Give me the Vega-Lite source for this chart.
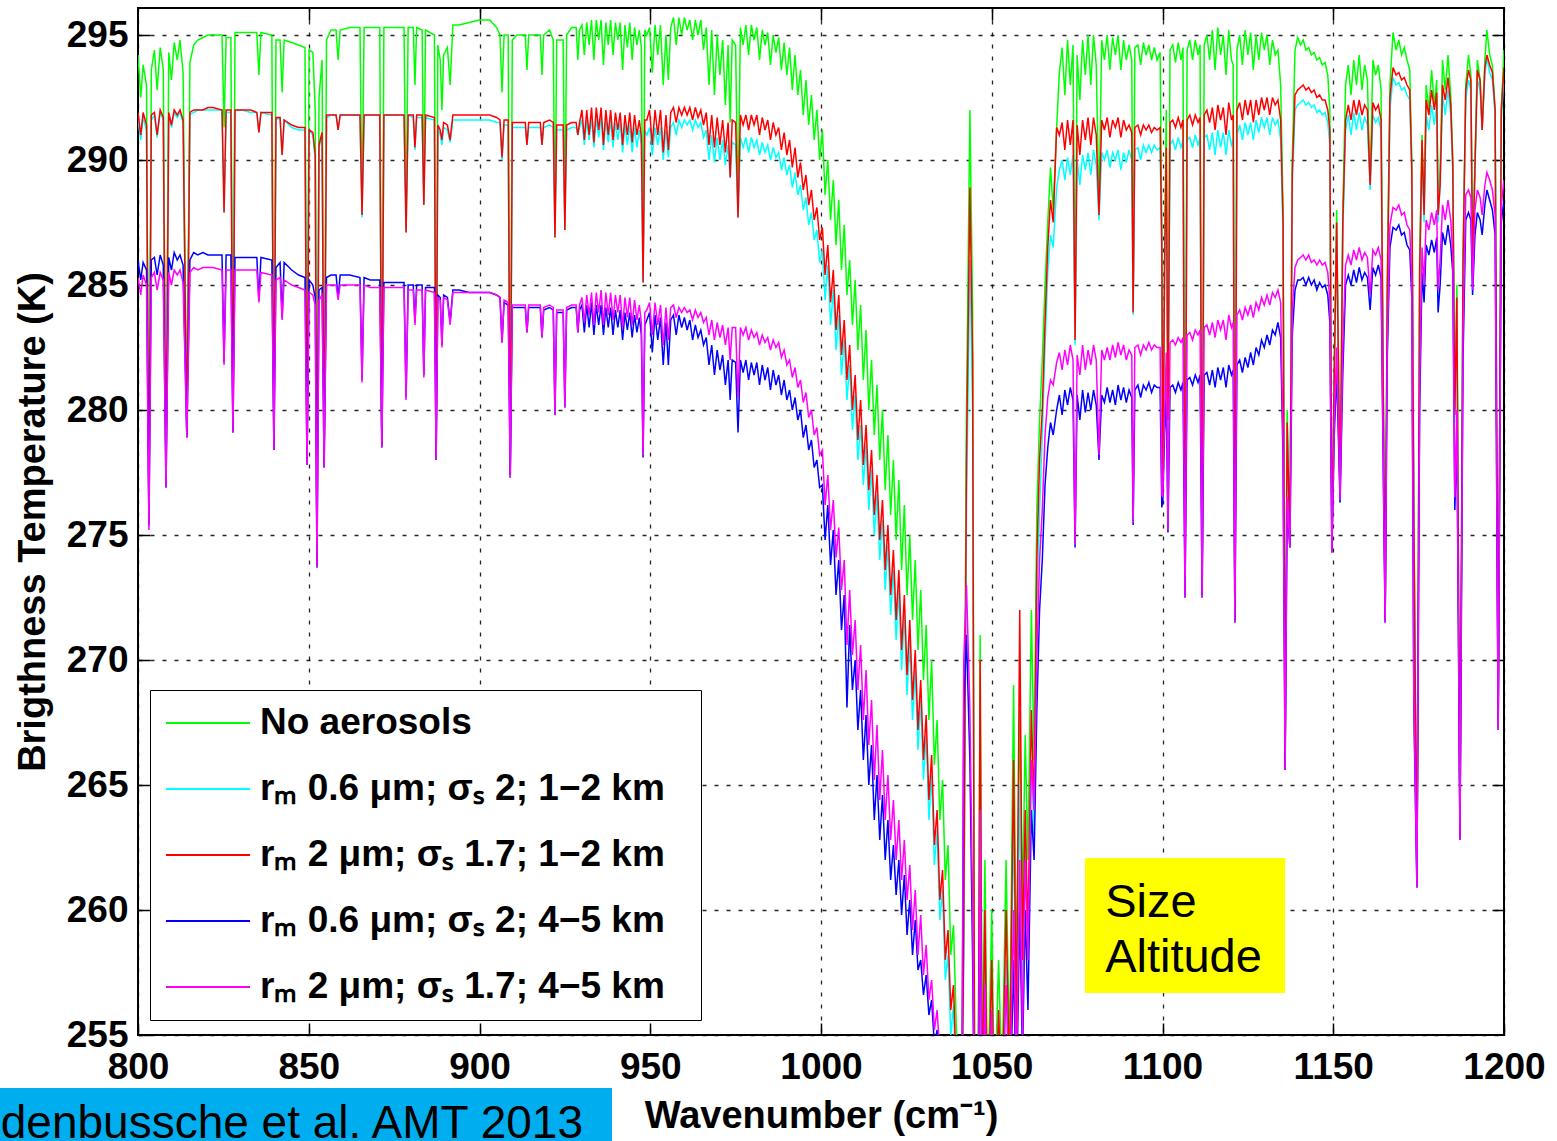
{
"$schema": "https://vega.github.io/schema/vega-lite/v6.json",
"width": 1366, "height": 1027,
"autosize": {"type": "none"},
"padding": {"left": 138, "top": 8, "right": 53, "bottom": 106},
"background": "white",
"config": {"font": "Liberation Sans", "view": {"stroke": "black", "strokeWidth": 2}},
"resolve": {"axis": {"x": "independent", "y": "independent"}},
"datasets": {
"spec": [
{"x":800.0,"g":294.2,"c":291.6,"r":291.9,"b":286.0,"m":285.3},
{"x":800.8,"g":292.5,"c":290.8,"r":291.0,"b":285.2,"m":284.6},
{"x":801.5,"g":293.8,"c":291.7,"r":291.9,"b":285.9,"m":285.4},
{"x":802.5,"g":293.0,"c":291.2,"r":291.4,"b":285.6,"m":285.0},
{"x":803.2,"g":275.5,"c":275.3,"r":275.4,"b":275.4,"m":275.2},
{"x":803.9,"g":293.6,"c":291.6,"r":291.8,"b":286.0,"m":285.3},
{"x":804.8,"g":294.4,"c":291.8,"r":291.9,"b":286.1,"m":285.5},
{"x":805.6,"g":292.8,"c":290.9,"r":291.0,"b":285.4,"m":284.8},
{"x":806.5,"g":294.5,"c":291.9,"r":292.0,"b":286.2,"m":285.5},
{"x":807.4,"g":293.6,"c":291.6,"r":291.7,"b":285.8,"m":285.2},
{"x":808.2,"g":277.0,"c":276.9,"r":277.0,"b":276.9,"m":276.9},
{"x":809.0,"g":294.3,"c":291.8,"r":291.9,"b":286.1,"m":285.5},
{"x":809.8,"g":293.2,"c":291.3,"r":291.4,"b":285.6,"m":285.0},
{"x":810.6,"g":294.7,"c":291.9,"r":292.0,"b":286.3,"m":285.6},
{"x":811.5,"g":294.0,"c":291.7,"r":291.8,"b":286.0,"m":285.4},
{"x":812.3,"g":294.8,"c":291.9,"r":292.0,"b":286.2,"m":285.6},
{"x":813.2,"g":293.5,"c":291.5,"r":291.6,"b":285.8,"m":285.1},
{"x":814.3,"g":279.0,"c":278.9,"r":279.0,"b":278.9,"m":278.9},
{"x":815.2,"g":293.9,"c":291.8,"r":291.9,"b":286.0,"m":285.5},
{"x":816.3,"g":294.6,"c":291.9,"r":292.0,"b":286.3,"m":285.7},
{"x":817.5,"g":294.8,"c":292.0,"r":292.0,"b":286.2,"m":285.6},
{"x":819.0,"g":294.9,"c":292.0,"r":292.0,"b":286.3,"m":285.7},
{"x":820.5,"g":295.0,"c":292.0,"r":292.1,"b":286.2,"m":285.7},
{"x":822.0,"g":295.0,"c":292.0,"r":292.1,"b":286.2,"m":285.7},
{"x":824.6,"g":295.0,"c":292.0,"r":292.0,"b":286.2,"m":285.6},
{"x":825.2,"g":291.3,"c":287.9,"r":287.9,"b":281.9,"m":281.8},
{"x":825.8,"g":294.9,"c":291.9,"r":292.0,"b":286.2,"m":285.6},
{"x":827.2,"g":294.9,"c":291.9,"r":292.0,"b":286.2,"m":285.6},
{"x":827.8,"g":279.2,"c":279.1,"r":279.2,"b":279.1,"m":279.1},
{"x":828.4,"g":295.1,"c":292.0,"r":292.0,"b":286.1,"m":285.6},
{"x":830.5,"g":295.1,"c":292.0,"r":292.0,"b":286.1,"m":285.6},
{"x":833.0,"g":295.1,"c":291.9,"r":292.0,"b":286.1,"m":285.6},
{"x":834.8,"g":295.1,"c":291.9,"r":291.9,"b":286.1,"m":285.6},
{"x":835.4,"g":293.4,"c":291.1,"r":291.1,"b":284.4,"m":284.3},
{"x":836.0,"g":295.1,"c":291.9,"r":291.9,"b":286.1,"m":285.5},
{"x":839.2,"g":295.0,"c":291.8,"r":291.9,"b":286.0,"m":285.4},
{"x":839.8,"g":278.5,"c":278.4,"r":278.4,"b":278.4,"m":278.4},
{"x":840.4,"g":294.8,"c":291.6,"r":291.7,"b":285.7,"m":285.2},
{"x":841.6,"g":294.8,"c":291.7,"r":291.7,"b":285.9,"m":285.3},
{"x":842.2,"g":292.7,"c":290.2,"r":290.2,"b":283.7,"m":283.6},
{"x":842.8,"g":294.8,"c":291.6,"r":291.6,"b":285.9,"m":285.2},
{"x":845.0,"g":294.7,"c":291.3,"r":291.4,"b":285.6,"m":285.0},
{"x":847.0,"g":294.6,"c":291.2,"r":291.3,"b":285.4,"m":284.9},
{"x":848.9,"g":294.5,"c":291.2,"r":291.3,"b":285.3,"m":284.8},
{"x":849.5,"g":277.9,"c":277.8,"r":277.9,"b":277.8,"m":277.8},
{"x":850.1,"g":294.4,"c":291.2,"r":291.2,"b":285.2,"m":284.7},
{"x":851.2,"g":294.3,"c":291.0,"r":291.1,"b":285.0,"m":284.6},
{"x":851.9,"g":292.0,"c":290.0,"r":290.2,"b":284.5,"m":284.2},
{"x":852.4,"g":273.8,"c":273.7,"r":273.8,"b":273.7,"m":273.7},
{"x":853.0,"g":292.5,"c":290.5,"r":290.6,"b":284.8,"m":284.4},
{"x":853.9,"g":294.0,"c":291.0,"r":291.1,"b":284.9,"m":284.6},
{"x":854.5,"g":277.8,"c":277.7,"r":277.8,"b":277.7,"m":277.7},
{"x":855.2,"g":294.8,"c":291.7,"r":291.8,"b":285.3,"m":285.0},
{"x":856.5,"g":295.2,"c":291.8,"r":291.8,"b":285.4,"m":285.0},
{"x":858.0,"g":295.2,"c":291.8,"r":291.8,"b":285.4,"m":285.0},
{"x":858.6,"g":294.0,"c":291.2,"r":291.2,"b":284.5,"m":284.4},
{"x":859.2,"g":295.2,"c":291.8,"r":291.8,"b":285.4,"m":285.0},
{"x":862.0,"g":295.3,"c":291.8,"r":291.8,"b":285.4,"m":285.0},
{"x":865.0,"g":295.3,"c":291.8,"r":291.8,"b":285.3,"m":285.0},
{"x":865.6,"g":287.8,"c":287.7,"r":287.8,"b":281.2,"m":281.1},
{"x":866.2,"g":295.3,"c":291.8,"r":291.8,"b":285.3,"m":285.0},
{"x":868.0,"g":295.3,"c":291.8,"r":291.8,"b":285.2,"m":284.9},
{"x":870.8,"g":295.3,"c":291.8,"r":291.8,"b":285.2,"m":284.9},
{"x":871.4,"g":278.6,"c":278.5,"r":278.6,"b":278.5,"m":278.5},
{"x":872.0,"g":295.3,"c":291.8,"r":291.8,"b":285.1,"m":284.9},
{"x":875.0,"g":295.3,"c":291.8,"r":291.8,"b":285.1,"m":284.9},
{"x":877.9,"g":295.3,"c":291.8,"r":291.8,"b":285.1,"m":284.9},
{"x":878.5,"g":287.2,"c":287.1,"r":287.1,"b":280.5,"m":280.4},
{"x":879.1,"g":295.3,"c":291.8,"r":291.8,"b":285.0,"m":284.8},
{"x":880.6,"g":295.3,"c":291.7,"r":291.8,"b":285.0,"m":284.8},
{"x":881.1,"g":293.0,"c":290.4,"r":290.5,"b":283.5,"m":283.4},
{"x":881.6,"g":295.3,"c":291.7,"r":291.8,"b":285.0,"m":284.8},
{"x":883.2,"g":295.2,"c":291.7,"r":291.8,"b":285.0,"m":284.8},
{"x":883.7,"g":288.3,"c":288.2,"r":288.2,"b":281.4,"m":281.3},
{"x":884.2,"g":295.2,"c":291.7,"r":291.8,"b":284.9,"m":284.8},
{"x":886.8,"g":295.0,"c":291.6,"r":291.7,"b":284.9,"m":284.7},
{"x":887.3,"g":278.1,"c":278.0,"r":278.1,"b":278.0,"m":278.0},
{"x":887.8,"g":294.6,"c":291.3,"r":291.4,"b":284.6,"m":284.5},
{"x":888.5,"g":294.0,"c":291.0,"r":291.2,"b":284.5,"m":284.4},
{"x":889.0,"g":292.0,"c":290.6,"r":290.8,"b":282.6,"m":282.5},
{"x":889.5,"g":294.2,"c":291.3,"r":291.5,"b":284.6,"m":284.5},
{"x":890.6,"g":294.5,"c":291.2,"r":291.4,"b":284.5,"m":284.4},
{"x":891.4,"g":293.0,"c":290.7,"r":290.8,"b":283.5,"m":283.4},
{"x":892.2,"g":295.4,"c":291.6,"r":291.8,"b":284.8,"m":284.7},
{"x":894.0,"g":295.4,"c":291.6,"r":291.8,"b":284.8,"m":284.7},
{"x":897.0,"g":295.5,"c":291.6,"r":291.8,"b":284.7,"m":284.7},
{"x":900.0,"g":295.6,"c":291.6,"r":291.8,"b":284.7,"m":284.7},
{"x":903.0,"g":295.6,"c":291.6,"r":291.8,"b":284.7,"m":284.7},
{"x":905.0,"g":295.3,"c":291.5,"r":291.7,"b":284.6,"m":284.6},
{"x":906.0,"g":295.0,"c":291.5,"r":291.6,"b":284.5,"m":284.5},
{"x":906.6,"g":292.7,"c":290.0,"r":290.1,"b":282.7,"m":282.7},
{"x":907.2,"g":295.0,"c":291.4,"r":291.6,"b":284.3,"m":284.4},
{"x":908.4,"g":295.0,"c":291.4,"r":291.6,"b":284.2,"m":284.3},
{"x":909.0,"g":277.4,"c":277.3,"r":277.4,"b":277.3,"m":277.3},
{"x":909.6,"g":294.8,"c":291.3,"r":291.5,"b":284.1,"m":284.2},
{"x":911.0,"g":295.0,"c":291.3,"r":291.5,"b":284.1,"m":284.2},
{"x":913.4,"g":295.0,"c":291.3,"r":291.5,"b":284.1,"m":284.2},
{"x":913.9,"g":293.6,"c":290.6,"r":290.6,"b":283.1,"m":283.1},
{"x":914.4,"g":295.0,"c":291.3,"r":291.5,"b":284.1,"m":284.2},
{"x":917.8,"g":295.0,"c":291.3,"r":291.5,"b":284.1,"m":284.2},
{"x":918.3,"g":293.4,"c":290.6,"r":290.6,"b":282.9,"m":282.9},
{"x":918.8,"g":295.0,"c":291.3,"r":291.5,"b":284.0,"m":284.1},
{"x":920.5,"g":295.2,"c":291.4,"r":291.6,"b":284.1,"m":284.2},
{"x":921.6,"g":294.8,"c":291.3,"r":291.5,"b":284.0,"m":284.1},
{"x":922.1,"g":287.0,"c":286.9,"r":286.9,"b":279.8,"m":279.8},
{"x":922.6,"g":294.8,"c":291.2,"r":291.4,"b":283.9,"m":284.0},
{"x":924.5,"g":294.8,"c":291.2,"r":291.4,"b":283.9,"m":284.0},
{"x":925.0,"g":287.3,"c":287.2,"r":287.2,"b":280.1,"m":280.1},
{"x":925.5,"g":295.0,"c":291.2,"r":291.4,"b":284.0,"m":284.1},
{"x":927.0,"g":295.3,"c":291.3,"r":291.5,"b":284.1,"m":284.2},
{"x":928.3,"g":295.3,"c":291.3,"r":291.5,"b":284.1,"m":284.2},
{"x":928.8,"g":294.0,"c":291.0,"r":291.0,"b":283.1,"m":283.1},
{"x":929.3,"g":295.2,"c":291.3,"r":291.5,"b":284.0,"m":284.2},
{"x":930.0,"g":295.4,"c":291.6,"r":292.0,"b":284.2,"m":284.5},
{"x":930.7,"g":294.2,"c":290.6,"r":290.8,"b":283.1,"m":283.5},
{"x":931.4,"g":295.5,"c":291.6,"r":292.0,"b":284.2,"m":284.6},
{"x":932.1,"g":294.6,"c":290.8,"r":291.0,"b":283.3,"m":283.8},
{"x":932.8,"g":295.6,"c":291.7,"r":292.1,"b":284.3,"m":284.7},
{"x":933.5,"g":294.0,"c":290.5,"r":290.7,"b":283.0,"m":283.4},
{"x":934.2,"g":295.6,"c":291.7,"r":292.1,"b":284.2,"m":284.7},
{"x":934.9,"g":294.8,"c":290.9,"r":291.2,"b":283.4,"m":283.9},
{"x":935.6,"g":295.6,"c":291.7,"r":292.1,"b":284.2,"m":284.8},
{"x":936.3,"g":293.8,"c":290.4,"r":290.6,"b":283.0,"m":283.4},
{"x":937.0,"g":295.5,"c":291.6,"r":292.0,"b":284.1,"m":284.7},
{"x":937.7,"g":294.6,"c":290.7,"r":291.0,"b":283.3,"m":283.8},
{"x":938.4,"g":295.6,"c":291.6,"r":292.0,"b":284.1,"m":284.7},
{"x":939.1,"g":294.2,"c":290.5,"r":290.8,"b":283.0,"m":283.6},
{"x":939.8,"g":295.5,"c":291.5,"r":291.9,"b":284.0,"m":284.6},
{"x":940.5,"g":294.8,"c":290.8,"r":291.2,"b":283.3,"m":283.9},
{"x":941.2,"g":295.5,"c":291.5,"r":291.9,"b":284.0,"m":284.6},
{"x":941.9,"g":293.6,"c":290.3,"r":290.6,"b":282.8,"m":283.3},
{"x":942.6,"g":295.4,"c":291.4,"r":291.8,"b":283.9,"m":284.5},
{"x":943.3,"g":294.5,"c":290.6,"r":291.0,"b":283.2,"m":283.7},
{"x":944.0,"g":295.5,"c":291.4,"r":291.9,"b":283.9,"m":284.5},
{"x":944.7,"g":294.0,"c":290.3,"r":290.7,"b":282.9,"m":283.4},
{"x":945.4,"g":295.3,"c":291.3,"r":291.8,"b":283.8,"m":284.4},
{"x":946.1,"g":294.6,"c":290.5,"r":291.0,"b":283.1,"m":283.6},
{"x":946.8,"g":295.2,"c":291.2,"r":291.6,"b":283.7,"m":284.2},
{"x":947.4,"g":294.5,"c":290.6,"r":290.9,"b":283.0,"m":283.5},
{"x":947.9,"g":285.2,"c":285.1,"r":285.1,"b":278.1,"m":278.2},
{"x":948.4,"g":295.2,"c":291.2,"r":291.6,"b":283.4,"m":283.9},
{"x":949.0,"g":295.0,"c":291.0,"r":291.6,"b":283.6,"m":284.0},
{"x":949.8,"g":295.3,"c":291.3,"r":292.0,"b":283.9,"m":284.3},
{"x":950.6,"g":293.5,"c":290.2,"r":290.6,"b":282.3,"m":283.0},
{"x":951.4,"g":295.4,"c":291.3,"r":292.0,"b":283.8,"m":284.3},
{"x":952.2,"g":294.2,"c":290.6,"r":291.0,"b":282.8,"m":283.4},
{"x":953.0,"g":295.4,"c":291.3,"r":292.0,"b":283.7,"m":284.2},
{"x":953.8,"g":293.0,"c":290.0,"r":290.3,"b":281.8,"m":282.6},
{"x":954.6,"g":295.0,"c":291.2,"r":291.8,"b":283.5,"m":284.1},
{"x":955.3,"g":293.2,"c":290.1,"r":290.4,"b":281.8,"m":282.8},
{"x":956.0,"g":295.3,"c":291.3,"r":291.9,"b":283.6,"m":284.1},
{"x":956.8,"g":295.7,"c":291.5,"r":292.1,"b":283.8,"m":284.2},
{"x":957.6,"g":294.6,"c":291.0,"r":291.5,"b":283.0,"m":283.7},
{"x":958.4,"g":295.7,"c":291.6,"r":292.1,"b":283.8,"m":284.1},
{"x":959.2,"g":295.0,"c":291.3,"r":291.8,"b":283.3,"m":283.9},
{"x":960.0,"g":295.7,"c":291.6,"r":292.1,"b":283.7,"m":284.1},
{"x":960.8,"g":295.2,"c":291.4,"r":291.8,"b":283.2,"m":283.9},
{"x":961.6,"g":295.6,"c":291.6,"r":292.1,"b":283.6,"m":284.0},
{"x":962.4,"g":294.8,"c":291.2,"r":291.6,"b":282.8,"m":283.6},
{"x":963.2,"g":295.6,"c":291.6,"r":292.1,"b":283.4,"m":284.0},
{"x":964.0,"g":295.0,"c":291.3,"r":291.7,"b":282.9,"m":283.7},
{"x":964.8,"g":295.6,"c":291.5,"r":292.0,"b":283.2,"m":283.9},
{"x":965.6,"g":294.4,"c":290.9,"r":291.4,"b":282.6,"m":283.5},
{"x":966.4,"g":295.3,"c":291.2,"r":291.9,"b":282.9,"m":283.7},
{"x":967.2,"g":293.0,"c":290.0,"r":290.6,"b":281.8,"m":283.0},
{"x":968.0,"g":295.2,"c":291.0,"r":291.8,"b":282.6,"m":283.6},
{"x":968.8,"g":292.6,"c":289.9,"r":290.5,"b":281.4,"m":282.8},
{"x":969.6,"g":295.0,"c":290.9,"r":291.7,"b":282.4,"m":283.5},
{"x":970.4,"g":293.4,"c":290.0,"r":290.6,"b":281.6,"m":282.9},
{"x":971.2,"g":294.8,"c":290.8,"r":291.6,"b":282.2,"m":283.4},
{"x":972.0,"g":292.2,"c":289.8,"r":290.3,"b":281.0,"m":282.6},
{"x":972.8,"g":294.6,"c":290.6,"r":291.5,"b":282.0,"m":283.3},
{"x":973.4,"g":291.5,"c":289.3,"r":289.3,"b":280.4,"m":282.0},
{"x":974.0,"g":294.8,"c":290.7,"r":291.6,"b":282.0,"m":283.3},
{"x":975.0,"g":294.6,"c":290.6,"r":291.5,"b":281.9,"m":283.3},
{"x":975.7,"g":288.0,"c":287.7,"r":287.7,"b":279.1,"m":280.5},
{"x":976.4,"g":295.3,"c":290.9,"r":291.8,"b":282.0,"m":283.3},
{"x":977.2,"g":294.6,"c":290.5,"r":291.4,"b":281.5,"m":283.0},
{"x":978.0,"g":295.4,"c":290.9,"r":291.8,"b":282.0,"m":283.3},
{"x":978.8,"g":294.2,"c":290.3,"r":291.2,"b":281.2,"m":282.8},
{"x":979.6,"g":295.4,"c":290.9,"r":291.8,"b":281.9,"m":283.2},
{"x":980.4,"g":294.8,"c":290.5,"r":291.4,"b":281.4,"m":282.9},
{"x":981.2,"g":295.3,"c":290.8,"r":291.8,"b":281.9,"m":283.1},
{"x":982.0,"g":294.0,"c":290.2,"r":291.0,"b":281.0,"m":282.6},
{"x":982.8,"g":295.2,"c":290.7,"r":291.7,"b":281.8,"m":283.0},
{"x":983.6,"g":294.6,"c":290.3,"r":291.2,"b":281.2,"m":282.7},
{"x":984.4,"g":295.1,"c":290.6,"r":291.6,"b":281.7,"m":282.9},
{"x":985.2,"g":293.8,"c":290.0,"r":290.8,"b":280.8,"m":282.4},
{"x":986.0,"g":295.0,"c":290.5,"r":291.5,"b":281.6,"m":282.8},
{"x":986.8,"g":294.3,"c":290.1,"r":291.0,"b":281.0,"m":282.5},
{"x":987.6,"g":294.9,"c":290.3,"r":291.3,"b":281.4,"m":282.7},
{"x":988.4,"g":293.6,"c":289.6,"r":290.4,"b":280.6,"m":282.1},
{"x":989.2,"g":294.7,"c":290.1,"r":291.1,"b":281.2,"m":282.4},
{"x":990.0,"g":293.4,"c":289.4,"r":290.2,"b":280.4,"m":281.8},
{"x":990.8,"g":294.5,"c":289.8,"r":290.8,"b":280.8,"m":282.0},
{"x":991.6,"g":292.8,"c":288.9,"r":289.7,"b":280.0,"m":281.3},
{"x":992.4,"g":294.2,"c":289.5,"r":290.5,"b":280.5,"m":281.7},
{"x":993.2,"g":292.6,"c":288.6,"r":289.3,"b":279.6,"m":280.9},
{"x":994.0,"g":293.6,"c":289.0,"r":289.9,"b":280.0,"m":281.2},
{"x":994.8,"g":291.8,"c":288.0,"r":288.8,"b":278.9,"m":280.3},
{"x":995.6,"g":293.2,"c":288.5,"r":289.4,"b":279.4,"m":280.7},
{"x":996.4,"g":291.4,"c":287.4,"r":288.2,"b":278.4,"m":279.7},
{"x":997.2,"g":292.6,"c":287.9,"r":288.8,"b":278.8,"m":280.0},
{"x":998.0,"g":290.8,"c":286.8,"r":287.6,"b":277.7,"m":279.0},
{"x":998.8,"g":292.0,"c":287.2,"r":288.1,"b":278.0,"m":279.3},
{"x":999.6,"g":290.0,"c":285.9,"r":286.8,"b":276.9,"m":278.2},
{"x":1000.4,"g":291.2,"c":286.4,"r":287.3,"b":277.0,"m":278.4},
{"x":1001.2,"g":288.6,"c":284.4,"r":285.4,"b":274.8,"m":276.2},
{"x":1002.0,"g":290.0,"c":285.8,"r":286.6,"b":276.2,"m":277.4},
{"x":1002.8,"g":287.6,"c":283.4,"r":284.3,"b":273.8,"m":275.2},
{"x":1003.6,"g":289.2,"c":284.8,"r":285.6,"b":275.2,"m":276.4},
{"x":1004.4,"g":286.6,"c":282.4,"r":283.2,"b":272.6,"m":274.1},
{"x":1005.2,"g":288.4,"c":283.8,"r":284.6,"b":274.0,"m":275.3},
{"x":1006.0,"g":285.6,"c":281.4,"r":282.2,"b":271.2,"m":272.8},
{"x":1006.8,"g":287.4,"c":282.8,"r":283.6,"b":272.6,"m":274.0},
{"x":1007.6,"g":284.6,"c":280.4,"r":281.2,"b":268.1,"m":270.6},
{"x":1008.4,"g":286.0,"c":281.8,"r":282.6,"b":271.4,"m":272.8},
{"x":1009.2,"g":283.4,"c":279.2,"r":280.0,"b":268.8,"m":270.2},
{"x":1010.0,"g":285.2,"c":280.6,"r":281.4,"b":270.0,"m":271.6},
{"x":1010.8,"g":282.4,"c":278.0,"r":278.8,"b":267.2,"m":268.8},
{"x":1011.6,"g":284.2,"c":279.4,"r":280.4,"b":268.8,"m":270.6},
{"x":1012.4,"g":281.2,"c":277.0,"r":277.8,"b":266.0,"m":267.6},
{"x":1013.2,"g":283.2,"c":278.6,"r":279.4,"b":267.8,"m":269.6},
{"x":1014.0,"g":280.0,"c":276.0,"r":276.8,"b":265.0,"m":266.6},
{"x":1014.8,"g":282.0,"c":277.6,"r":278.4,"b":266.6,"m":268.4},
{"x":1015.6,"g":279.0,"c":275.0,"r":275.8,"b":263.6,"m":265.2},
{"x":1016.4,"g":281.0,"c":276.6,"r":277.4,"b":265.4,"m":267.4},
{"x":1017.2,"g":278.0,"c":274.0,"r":274.8,"b":262.8,"m":264.4},
{"x":1018.0,"g":280.0,"c":275.6,"r":276.4,"b":264.6,"m":266.4},
{"x":1018.8,"g":276.8,"c":272.8,"r":273.6,"b":262.0,"m":263.6},
{"x":1019.6,"g":279.0,"c":274.6,"r":275.4,"b":263.6,"m":265.4},
{"x":1020.4,"g":275.8,"c":271.8,"r":272.6,"b":261.2,"m":262.8},
{"x":1021.2,"g":278.0,"c":273.6,"r":274.4,"b":262.6,"m":264.4},
{"x":1022.0,"g":274.8,"c":270.8,"r":271.6,"b":260.6,"m":262.0},
{"x":1022.8,"g":277.2,"c":272.8,"r":273.6,"b":262.0,"m":263.6},
{"x":1023.6,"g":273.6,"c":269.6,"r":270.4,"b":259.8,"m":261.2},
{"x":1024.4,"g":276.2,"c":271.8,"r":272.6,"b":261.4,"m":262.8},
{"x":1025.2,"g":272.6,"c":268.6,"r":269.4,"b":259.0,"m":260.4},
{"x":1026.0,"g":275.0,"c":270.8,"r":271.6,"b":260.4,"m":261.8},
{"x":1026.8,"g":271.6,"c":267.6,"r":268.4,"b":258.2,"m":259.2},
{"x":1027.6,"g":274.0,"c":269.6,"r":270.4,"b":259.6,"m":260.8},
{"x":1028.4,"g":270.4,"c":266.4,"r":267.2,"b":257.6,"m":258.2},
{"x":1029.2,"g":272.8,"c":268.4,"r":269.2,"b":258.0,"m":259.8},
{"x":1030.0,"g":269.2,"c":265.2,"r":266.0,"b":256.6,"m":257.4},
{"x":1030.8,"g":271.4,"c":267.0,"r":267.8,"b":257.4,"m":258.6},
{"x":1031.6,"g":267.6,"c":263.6,"r":264.4,"b":255.8,"m":256.4},
{"x":1032.4,"g":270.0,"c":265.4,"r":266.2,"b":256.4,"m":257.2},
{"x":1033.2,"g":265.8,"c":261.8,"r":262.6,"b":254.6,"m":255.2},
{"x":1034.0,"g":267.6,"c":263.2,"r":264.0,"b":255.2,"m":256.0},
{"x":1034.8,"g":263.6,"c":259.6,"r":260.4,"b":253.6,"m":254.2},
{"x":1035.6,"g":265.2,"c":260.8,"r":261.6,"b":254.2,"m":254.8},
{"x":1036.4,"g":261.2,"c":257.2,"r":258.0,"b":252.0,"m":252.6},
{"x":1037.2,"g":262.6,"c":258.2,"r":259.2,"b":252.6,"m":253.2},
{"x":1038.0,"g":258.2,"c":255.0,"r":256.0,"b":251.0,"m":251.0},
{"x":1038.8,"g":259.4,"c":256.2,"r":257.0,"b":251.0,"m":251.0},
{"x":1039.6,"g":255.4,"c":252.6,"r":253.4,"b":250.0,"m":250.0},
{"x":1040.4,"g":253.0,"c":251.0,"r":251.0,"b":250.0,"m":250.0},
{"x":1041.2,"g":252.0,"c":251.0,"r":251.0,"b":250.0,"m":250.0},
{"x":1041.8,"g":262.0,"c":258.0,"r":259.0,"b":268.0,"m":270.0},
{"x":1042.6,"g":280.0,"c":276.0,"r":278.0,"b":271.0,"m":273.0},
{"x":1043.6,"g":292.0,"c":286.0,"r":288.9,"b":266.0,"m":268.0},
{"x":1044.4,"g":284.0,"c":280.0,"r":282.0,"b":258.0,"m":260.0},
{"x":1045.0,"g":252.0,"c":251.0,"r":251.0,"b":250.0,"m":250.0},
{"x":1046.0,"g":252.0,"c":251.0,"r":251.0,"b":250.0,"m":250.0},
{"x":1046.6,"g":271.0,"c":266.0,"r":270.0,"b":262.0,"m":264.0},
{"x":1047.2,"g":253.0,"c":251.0,"r":252.0,"b":250.0,"m":250.0},
{"x":1048.0,"g":262.0,"c":258.0,"r":260.0,"b":256.0,"m":257.0},
{"x":1048.8,"g":252.0,"c":251.0,"r":251.0,"b":250.0,"m":250.0},
{"x":1050.0,"g":260.0,"c":256.0,"r":258.0,"b":254.0,"m":256.0},
{"x":1050.8,"g":252.0,"c":251.0,"r":251.0,"b":250.0,"m":250.0},
{"x":1052.0,"g":258.0,"c":255.0,"r":256.0,"b":253.0,"m":255.0},
{"x":1053.0,"g":253.0,"c":251.0,"r":252.0,"b":250.0,"m":251.0},
{"x":1054.2,"g":262.0,"c":258.0,"r":260.0,"b":255.0,"m":257.0},
{"x":1055.2,"g":254.0,"c":252.0,"r":253.0,"b":251.0,"m":252.0},
{"x":1056.4,"g":269.0,"c":264.0,"r":266.0,"b":258.0,"m":260.0},
{"x":1057.2,"g":257.0,"c":254.0,"r":255.0,"b":252.0,"m":253.0},
{"x":1058.2,"g":268.0,"c":265.0,"r":272.0,"b":260.0,"m":262.0},
{"x":1059.0,"g":260.0,"c":257.0,"r":258.0,"b":254.0,"m":255.0},
{"x":1059.8,"g":267.0,"c":263.0,"r":264.0,"b":260.0,"m":262.0},
{"x":1060.6,"g":262.0,"c":258.0,"r":259.0,"b":256.0,"m":258.0},
{"x":1061.6,"g":272.0,"c":266.0,"r":268.0,"b":264.0,"m":266.0},
{"x":1062.4,"g":266.0,"c":263.0,"r":264.0,"b":262.0,"m":264.0},
{"x":1063.2,"g":276.0,"c":272.0,"r":274.0,"b":268.0,"m":270.0},
{"x":1064.0,"g":279.6,"c":276.0,"r":278.0,"b":272.0,"m":274.0},
{"x":1064.8,"g":282.0,"c":279.0,"r":280.0,"b":274.0,"m":276.0},
{"x":1065.6,"g":285.0,"c":282.5,"r":283.5,"b":277.0,"m":279.0},
{"x":1066.4,"g":287.5,"c":285.5,"r":286.5,"b":278.5,"m":280.5},
{"x":1067.2,"g":289.7,"c":287.0,"r":288.4,"b":279.5,"m":281.2},
{"x":1068.0,"g":288.0,"c":286.5,"r":287.5,"b":279.0,"m":281.0},
{"x":1069.0,"g":291.3,"c":288.9,"r":291.3,"b":280.0,"m":281.9},
{"x":1069.8,"g":293.5,"c":289.6,"r":291.0,"b":280.6,"m":282.3},
{"x":1070.6,"g":294.5,"c":290.0,"r":291.5,"b":279.8,"m":281.6},
{"x":1071.4,"g":292.6,"c":289.2,"r":290.4,"b":280.8,"m":282.4},
{"x":1072.2,"g":294.8,"c":290.1,"r":291.6,"b":280.2,"m":281.8},
{"x":1073.0,"g":293.0,"c":289.4,"r":290.6,"b":280.9,"m":282.6},
{"x":1073.8,"g":294.6,"c":290.2,"r":291.6,"b":280.4,"m":282.0},
{"x":1074.4,"g":282.8,"c":282.6,"r":282.8,"b":274.5,"m":274.6},
{"x":1075.0,"g":294.2,"c":290.0,"r":291.4,"b":280.6,"m":282.2},
{"x":1075.8,"g":292.4,"c":289.0,"r":290.2,"b":279.6,"m":281.4},
{"x":1076.6,"g":294.8,"c":290.2,"r":291.6,"b":280.8,"m":282.6},
{"x":1077.4,"g":293.4,"c":289.6,"r":290.8,"b":279.9,"m":281.6},
{"x":1078.2,"g":295.0,"c":290.3,"r":291.7,"b":280.7,"m":282.4},
{"x":1079.0,"g":293.0,"c":289.4,"r":290.6,"b":280.0,"m":281.8},
{"x":1079.8,"g":295.0,"c":290.4,"r":291.7,"b":280.8,"m":282.6},
{"x":1080.6,"g":293.8,"c":289.8,"r":291.0,"b":280.2,"m":282.0},
{"x":1081.4,"g":288.0,"c":287.6,"r":287.8,"b":278.0,"m":278.2},
{"x":1082.2,"g":294.8,"c":290.3,"r":291.6,"b":280.6,"m":282.4},
{"x":1083.0,"g":294.0,"c":290.0,"r":291.2,"b":280.3,"m":282.0},
{"x":1083.8,"g":295.0,"c":290.4,"r":291.7,"b":280.9,"m":282.5},
{"x":1084.6,"g":293.6,"c":289.7,"r":290.9,"b":280.3,"m":282.0},
{"x":1085.4,"g":294.9,"c":290.3,"r":291.6,"b":280.8,"m":282.6},
{"x":1086.2,"g":294.2,"c":290.0,"r":291.3,"b":280.2,"m":282.1},
{"x":1087.0,"g":295.0,"c":290.4,"r":291.7,"b":281.0,"m":282.7},
{"x":1087.8,"g":293.6,"c":289.6,"r":290.9,"b":280.4,"m":282.2},
{"x":1088.6,"g":294.8,"c":290.3,"r":291.6,"b":280.9,"m":282.6},
{"x":1089.4,"g":294.0,"c":289.9,"r":291.2,"b":280.3,"m":282.0},
{"x":1090.2,"g":294.6,"c":290.4,"r":291.4,"b":280.8,"m":282.4},
{"x":1091.0,"g":294.0,"c":290.0,"r":291.1,"b":280.5,"m":282.2},
{"x":1091.4,"g":284.0,"c":283.8,"r":283.9,"b":275.4,"m":275.5},
{"x":1091.9,"g":294.5,"c":290.4,"r":291.3,"b":280.8,"m":282.5},
{"x":1092.8,"g":294.6,"c":290.5,"r":291.4,"b":281.0,"m":282.6},
{"x":1093.6,"g":293.8,"c":290.0,"r":291.0,"b":280.5,"m":282.2},
{"x":1094.4,"g":294.7,"c":290.6,"r":291.4,"b":281.0,"m":282.6},
{"x":1095.2,"g":294.2,"c":290.3,"r":291.2,"b":280.8,"m":282.4},
{"x":1096.0,"g":294.6,"c":290.6,"r":291.4,"b":281.1,"m":282.7},
{"x":1096.8,"g":294.0,"c":290.3,"r":291.1,"b":280.7,"m":282.4},
{"x":1097.6,"g":294.5,"c":290.6,"r":291.3,"b":281.0,"m":282.6},
{"x":1098.4,"g":294.0,"c":290.4,"r":291.2,"b":280.9,"m":282.5},
{"x":1099.3,"g":294.3,"c":290.5,"r":291.3,"b":280.9,"m":282.5},
{"x":1099.8,"g":287.0,"c":286.0,"r":286.5,"b":276.1,"m":276.6},
{"x":1100.1,"g":276.8,"c":276.5,"r":276.6,"b":276.4,"m":276.5},
{"x":1100.6,"g":286.0,"c":285.2,"r":285.6,"b":279.0,"m":279.8},
{"x":1101.1,"g":292.0,"c":289.6,"r":290.5,"b":280.6,"m":282.3},
{"x":1101.6,"g":280.0,"c":279.0,"r":279.6,"b":275.1,"m":275.2},
{"x":1102.2,"g":294.4,"c":290.6,"r":291.5,"b":280.9,"m":282.7},
{"x":1103.0,"g":294.6,"c":290.8,"r":291.6,"b":281.0,"m":282.8},
{"x":1103.8,"g":293.9,"c":290.4,"r":291.3,"b":280.7,"m":282.6},
{"x":1104.6,"g":294.7,"c":290.9,"r":291.7,"b":281.1,"m":282.9},
{"x":1105.4,"g":294.0,"c":290.5,"r":291.3,"b":280.8,"m":282.7},
{"x":1106.0,"g":294.5,"c":290.8,"r":291.6,"b":281.1,"m":282.9},
{"x":1106.6,"g":272.6,"c":272.5,"r":272.6,"b":272.5,"m":272.5},
{"x":1107.2,"g":294.4,"c":290.8,"r":291.6,"b":281.2,"m":283.0},
{"x":1108.0,"g":294.8,"c":290.9,"r":291.8,"b":281.3,"m":283.1},
{"x":1108.8,"g":294.0,"c":290.5,"r":291.4,"b":281.0,"m":282.8},
{"x":1109.6,"g":294.8,"c":291.0,"r":291.8,"b":281.4,"m":283.2},
{"x":1110.4,"g":294.2,"c":290.6,"r":291.5,"b":281.1,"m":283.0},
{"x":1111.0,"g":294.6,"c":290.9,"r":291.7,"b":281.4,"m":283.2},
{"x":1111.6,"g":272.6,"c":272.5,"r":272.6,"b":272.5,"m":272.5},
{"x":1112.2,"g":294.6,"c":290.9,"r":291.8,"b":281.4,"m":283.3},
{"x":1113.0,"g":295.0,"c":291.0,"r":292.0,"b":281.5,"m":283.4},
{"x":1113.8,"g":294.0,"c":290.4,"r":291.5,"b":281.0,"m":283.0},
{"x":1114.6,"g":295.2,"c":291.1,"r":292.1,"b":281.6,"m":283.5},
{"x":1115.4,"g":293.6,"c":290.2,"r":291.2,"b":280.9,"m":282.9},
{"x":1116.2,"g":295.3,"c":291.2,"r":292.2,"b":281.7,"m":283.6},
{"x":1117.0,"g":294.2,"c":290.5,"r":291.6,"b":281.2,"m":283.2},
{"x":1117.8,"g":295.0,"c":291.1,"r":292.1,"b":281.7,"m":283.6},
{"x":1118.6,"g":293.4,"c":290.2,"r":291.0,"b":280.9,"m":282.8},
{"x":1119.4,"g":295.2,"c":291.2,"r":292.3,"b":281.8,"m":283.8},
{"x":1120.2,"g":294.0,"c":290.6,"r":291.6,"b":281.4,"m":283.3},
{"x":1120.7,"g":293.8,"c":290.8,"r":291.8,"b":281.6,"m":283.5},
{"x":1121.2,"g":271.6,"c":271.5,"r":271.6,"b":271.5,"m":271.5},
{"x":1121.8,"g":294.4,"c":291.0,"r":292.0,"b":281.8,"m":283.8},
{"x":1122.6,"g":295.0,"c":291.4,"r":292.3,"b":282.0,"m":284.0},
{"x":1123.4,"g":293.8,"c":290.8,"r":291.6,"b":281.5,"m":283.6},
{"x":1124.2,"g":295.2,"c":291.5,"r":292.4,"b":282.1,"m":284.1},
{"x":1125.0,"g":294.2,"c":291.0,"r":291.8,"b":281.7,"m":283.8},
{"x":1125.8,"g":295.1,"c":291.5,"r":292.4,"b":282.3,"m":284.2},
{"x":1126.6,"g":293.6,"c":290.8,"r":291.5,"b":281.8,"m":283.7},
{"x":1127.4,"g":295.0,"c":291.6,"r":292.4,"b":282.5,"m":284.3},
{"x":1128.2,"g":294.0,"c":291.1,"r":291.8,"b":282.2,"m":284.0},
{"x":1129.0,"g":295.1,"c":291.7,"r":292.5,"b":282.8,"m":284.5},
{"x":1129.8,"g":294.4,"c":291.3,"r":292.0,"b":282.5,"m":284.2},
{"x":1130.6,"g":295.0,"c":291.7,"r":292.5,"b":283.0,"m":284.6},
{"x":1131.4,"g":293.8,"c":291.0,"r":291.8,"b":282.6,"m":284.2},
{"x":1132.2,"g":294.8,"c":291.7,"r":292.5,"b":283.2,"m":284.7},
{"x":1133.0,"g":294.2,"c":291.4,"r":292.2,"b":283.0,"m":284.5},
{"x":1133.8,"g":294.4,"c":291.6,"r":292.4,"b":283.5,"m":284.8},
{"x":1134.6,"g":293.0,"c":290.8,"r":291.6,"b":282.9,"m":284.3},
{"x":1135.3,"g":288.0,"c":287.0,"r":287.5,"b":278.0,"m":278.5},
{"x":1135.9,"g":265.7,"c":265.6,"r":265.7,"b":265.6,"m":265.6},
{"x":1136.5,"g":280.0,"c":279.0,"r":279.5,"b":276.0,"m":276.5},
{"x":1137.3,"g":274.6,"c":274.5,"r":274.6,"b":274.5,"m":274.5},
{"x":1138.0,"g":290.0,"c":289.0,"r":289.5,"b":283.0,"m":284.0},
{"x":1138.8,"g":294.4,"c":292.0,"r":292.6,"b":284.8,"m":285.7},
{"x":1139.6,"g":294.9,"c":292.2,"r":292.8,"b":285.2,"m":286.0},
{"x":1140.4,"g":294.6,"c":292.3,"r":292.9,"b":285.2,"m":286.1},
{"x":1141.2,"g":294.8,"c":292.4,"r":293.0,"b":285.3,"m":286.2},
{"x":1142.0,"g":294.4,"c":292.2,"r":292.8,"b":285.0,"m":286.0},
{"x":1142.8,"g":294.5,"c":292.3,"r":292.9,"b":285.3,"m":286.2},
{"x":1143.6,"g":294.2,"c":292.1,"r":292.7,"b":285.0,"m":285.9},
{"x":1144.4,"g":294.3,"c":292.2,"r":292.8,"b":285.2,"m":286.0},
{"x":1145.2,"g":294.0,"c":291.9,"r":292.5,"b":284.8,"m":285.8},
{"x":1146.0,"g":294.1,"c":292.0,"r":292.6,"b":285.1,"m":286.0},
{"x":1146.8,"g":293.8,"c":291.8,"r":292.4,"b":284.9,"m":285.8},
{"x":1147.6,"g":293.9,"c":291.9,"r":292.4,"b":285.0,"m":285.9},
{"x":1148.4,"g":293.4,"c":291.5,"r":292.0,"b":284.6,"m":285.5},
{"x":1149.0,"g":292.0,"c":290.6,"r":291.2,"b":283.5,"m":284.4},
{"x":1149.6,"g":274.4,"c":274.3,"r":274.4,"b":274.3,"m":274.3},
{"x":1150.3,"g":282.0,"c":281.0,"r":281.5,"b":279.0,"m":279.5},
{"x":1151.0,"g":288.0,"c":287.0,"r":287.5,"b":281.5,"m":282.5},
{"x":1152.0,"g":276.4,"c":276.3,"r":276.4,"b":276.3,"m":276.4},
{"x":1152.8,"g":288.0,"c":287.0,"r":287.5,"b":281.5,"m":282.5},
{"x":1153.6,"g":293.0,"c":291.2,"r":291.6,"b":285.0,"m":285.8},
{"x":1154.4,"g":293.8,"c":291.8,"r":292.2,"b":285.4,"m":286.2},
{"x":1155.2,"g":292.6,"c":291.0,"r":291.6,"b":285.0,"m":285.8},
{"x":1156.0,"g":294.0,"c":291.9,"r":292.4,"b":285.6,"m":286.4},
{"x":1156.8,"g":293.0,"c":291.2,"r":291.8,"b":285.1,"m":286.0},
{"x":1157.6,"g":294.2,"c":291.9,"r":292.4,"b":285.7,"m":286.5},
{"x":1158.4,"g":292.8,"c":291.2,"r":291.8,"b":285.2,"m":286.0},
{"x":1159.2,"g":293.8,"c":291.7,"r":292.2,"b":285.5,"m":286.3},
{"x":1160.0,"g":293.2,"c":291.4,"r":292.0,"b":285.3,"m":286.1},
{"x":1160.8,"g":289.0,"c":288.8,"r":289.0,"b":284.0,"m":284.6},
{"x":1161.6,"g":294.0,"c":291.8,"r":292.3,"b":285.7,"m":286.4},
{"x":1162.4,"g":293.4,"c":291.5,"r":292.0,"b":285.4,"m":286.2},
{"x":1163.2,"g":293.8,"c":291.7,"r":292.2,"b":285.8,"m":286.5},
{"x":1164.0,"g":292.8,"c":291.2,"r":291.6,"b":285.3,"m":286.0},
{"x":1164.6,"g":282.0,"c":281.0,"r":281.5,"b":278.0,"m":278.5},
{"x":1165.2,"g":271.6,"c":271.5,"r":271.6,"b":271.5,"m":271.5},
{"x":1165.8,"g":285.0,"c":284.0,"r":284.5,"b":282.0,"m":282.5},
{"x":1166.6,"g":293.0,"c":292.0,"r":292.5,"b":286.5,"m":287.4},
{"x":1167.5,"g":295.1,"c":293.3,"r":293.7,"b":287.3,"m":288.1},
{"x":1168.4,"g":294.4,"c":293.0,"r":293.4,"b":287.2,"m":288.0},
{"x":1169.2,"g":294.8,"c":293.1,"r":293.5,"b":287.4,"m":288.2},
{"x":1170.0,"g":294.2,"c":292.8,"r":293.2,"b":287.0,"m":287.8},
{"x":1170.8,"g":294.5,"c":292.9,"r":293.3,"b":287.1,"m":287.9},
{"x":1171.6,"g":294.0,"c":292.6,"r":293.0,"b":286.6,"m":287.4},
{"x":1172.4,"g":293.6,"c":292.4,"r":292.8,"b":286.4,"m":287.2},
{"x":1173.0,"g":290.0,"c":289.4,"r":289.6,"b":284.5,"m":285.2},
{"x":1173.6,"g":276.0,"c":275.5,"r":275.8,"b":268.0,"m":268.5},
{"x":1174.5,"g":261.0,"c":260.9,"r":261.0,"b":260.9,"m":260.9},
{"x":1175.3,"g":286.0,"c":285.0,"r":285.5,"b":280.0,"m":281.0},
{"x":1176.0,"g":291.0,"c":290.0,"r":290.8,"b":285.5,"m":286.5},
{"x":1176.6,"g":288.0,"c":287.5,"r":287.8,"b":284.3,"m":285.0},
{"x":1177.2,"g":293.0,"c":291.8,"r":292.4,"b":286.6,"m":287.6},
{"x":1178.0,"g":292.0,"c":291.2,"r":291.8,"b":286.2,"m":287.2},
{"x":1178.8,"g":293.6,"c":292.2,"r":292.8,"b":286.8,"m":287.9},
{"x":1179.6,"g":292.2,"c":291.4,"r":292.0,"b":286.3,"m":287.4},
{"x":1180.3,"g":293.2,"c":292.2,"r":292.7,"b":286.9,"m":288.0},
{"x":1180.7,"g":288.0,"c":287.5,"r":287.8,"b":283.9,"m":284.8},
{"x":1181.3,"g":289.6,"c":289.0,"r":289.0,"b":285.0,"m":286.0},
{"x":1182.0,"g":294.0,"c":292.6,"r":293.0,"b":287.1,"m":288.2},
{"x":1182.8,"g":292.8,"c":291.8,"r":292.4,"b":286.6,"m":287.6},
{"x":1183.6,"g":294.2,"c":292.8,"r":293.3,"b":287.4,"m":288.4},
{"x":1184.4,"g":292.6,"c":291.8,"r":292.2,"b":286.6,"m":287.6},
{"x":1185.0,"g":290.0,"c":289.5,"r":289.8,"b":285.5,"m":286.2},
{"x":1185.6,"g":280.0,"c":279.5,"r":279.8,"b":276.0,"m":276.5},
{"x":1186.2,"g":285.0,"c":284.0,"r":284.5,"b":279.0,"m":280.0},
{"x":1187.1,"g":262.9,"c":262.8,"r":262.9,"b":262.8,"m":262.8},
{"x":1188.0,"g":286.0,"c":285.5,"r":285.8,"b":282.0,"m":283.0},
{"x":1188.8,"g":293.0,"c":292.4,"r":292.8,"b":287.6,"m":288.6},
{"x":1189.6,"g":294.2,"c":293.2,"r":293.6,"b":287.9,"m":288.8},
{"x":1190.3,"g":293.4,"c":292.8,"r":293.2,"b":287.6,"m":288.5},
{"x":1190.8,"g":286.0,"c":285.5,"r":285.8,"b":284.6,"m":284.8},
{"x":1191.5,"g":290.0,"c":289.7,"r":289.7,"b":287.0,"m":288.0},
{"x":1192.2,"g":294.0,"c":293.2,"r":293.6,"b":287.9,"m":288.8},
{"x":1193.0,"g":293.2,"c":292.8,"r":293.2,"b":287.6,"m":288.5},
{"x":1193.6,"g":291.2,"c":291.2,"r":291.2,"b":287.0,"m":287.8},
{"x":1194.4,"g":294.0,"c":293.4,"r":293.7,"b":288.2,"m":289.0},
{"x":1195.0,"g":295.2,"c":294.1,"r":294.2,"b":288.8,"m":289.5},
{"x":1195.8,"g":294.2,"c":293.5,"r":293.8,"b":288.4,"m":289.2},
{"x":1196.6,"g":293.8,"c":293.2,"r":293.5,"b":288.0,"m":288.8},
{"x":1197.4,"g":292.0,"c":291.8,"r":292.0,"b":287.0,"m":287.8},
{"x":1198.3,"g":267.3,"c":267.2,"r":267.3,"b":267.2,"m":267.2},
{"x":1199.2,"g":292.0,"c":291.6,"r":292.0,"b":287.5,"m":288.2},
{"x":1200.0,"g":294.4,"c":293.4,"r":293.7,"b":288.4,"m":289.2}
],
"ybox": [{"x1": 1077.3, "x2": 1135.9, "y1": 256.68, "y2": 262.08}],
"ytext": [{"label": "Size", "x": 1083.2, "T": 259.72}, {"label": "Altitude", "x": 1083.2, "T": 257.52}],
"cbox": [{"x1": 740, "x2": 938.8, "y1": 249.5, "y2": 252.88}],
"ctext": [{"label": "Vandenbussche et al. AMT 2013", "x": 930.3, "T": 250.88}]
},
"layer": [
{
"data": {"name": "spec"},
"transform": [{"fold": ["g", "c", "r", "b", "m"], "as": ["key", "T"]}],
"mark": {"type": "line", "clip": true, "strokeWidth": 1.5},
"encoding": {
"x": {"field": "x", "type": "quantitative", "scale": {"domain": [800, 1200], "nice": false, "zero": false},
"axis": {"orient": "bottom", "values": [800, 850, 900, 950, 1000, 1050, 1100, 1150, 1200], "format": "d", "title": "Wavenumber (cm⁻¹)",
"grid": true, "gridColor": "black", "gridDash": [4, 8], "gridWidth": 1.3, "gridOpacity": 0.85,
"domain": false, "ticks": true, "tickSize": -12, "tickColor": "black", "tickWidth": 1.5,
"labelPadding": 26, "labelFontSize": 37, "labelFontWeight": "bold", "labelColor": "black", "labelFlush": false,
"titleFontSize": 38, "titleFontWeight": "bold", "titleColor": "black", "titlePadding": 12}},
"y": {"field": "T", "type": "quantitative", "scale": {"domain": [255, 296.08], "nice": false, "zero": false},
"axis": {"orient": "left", "values": [255, 260, 265, 270, 275, 280, 285, 290, 295], "format": "d", "title": "Brigthness Temperature (K)",
"grid": true, "gridColor": "black", "gridDash": [4, 8], "gridWidth": 1.3, "gridOpacity": 0.85,
"domain": false, "ticks": true, "tickSize": -12, "tickColor": "black", "tickWidth": 1.5,
"labelPadding": 22, "labelFontSize": 37, "labelFontWeight": "bold", "labelColor": "black", "labelFlush": false,
"titleFontSize": 38, "titleFontWeight": "bold", "titleColor": "black", "titlePadding": 14}},
"color": {"field": "key", "type": "nominal",
"scale": {"domain": ["g", "c", "r", "b", "m"], "range": ["#00FF00", "#00FFFF", "#FF0000", "#0000FF", "#FF00FF"]},
"legend": {"orient": "none", "legendX": 12, "legendY": 682, "title": null,
"symbolType": "stroke", "symbolSize": 7056, "symbolStrokeWidth": 2, "clipHeight": 36, "rowPadding": 29,
"padding": 15, "labelOffset": 9, "labelFontSize": 37, "labelFontWeight": "bold", "labelColor": "black", "labelLimit": 700,
"fillColor": "white", "strokeColor": "black",
"labelExpr": "datum.label == 'g' ? 'No aerosols' : datum.label == 'c' ? 'rₘ  0.6 μm; σₛ  2; 1−2 km' : datum.label == 'r' ? 'rₘ  2 μm; σₛ  1.7; 1−2 km' : datum.label == 'b' ? 'rₘ  0.6 μm; σₛ  2; 4−5 km' : 'rₘ  2 μm; σₛ  1.7; 4−5 km'"}}
}
},
{
"data": {"name": "ybox"},
"mark": {"type": "rect", "color": "#FFFF00"},
"encoding": {
"x": {"field": "x1", "type": "quantitative", "scale": {"domain": [800, 1200], "nice": false, "zero": false},
"axis": {"orient": "top", "values": [850, 900, 950, 1000, 1050, 1100, 1150], "labels": false, "title": null, "grid": false, "domain": false, "ticks": true, "tickSize": -12, "tickColor": "black", "tickWidth": 1.5}},
"x2": {"field": "x2"},
"y": {"field": "y1", "type": "quantitative", "scale": {"domain": [255, 296.08], "nice": false, "zero": false},
"axis": {"orient": "right", "values": [260, 265, 270, 275, 280, 285, 290, 295], "labels": false, "title": null, "grid": false, "domain": false, "ticks": true, "tickSize": -12, "tickColor": "black", "tickWidth": 1.5}},
"y2": {"field": "y2"}
}
},
{
"data": {"name": "ytext"},
"mark": {"type": "text", "align": "left", "baseline": "alphabetic", "fontSize": 47, "font": "Liberation Sans", "color": "black"},
"encoding": {
"x": {"field": "x", "type": "quantitative", "axis": null, "scale": {"domain": [800, 1200], "nice": false, "zero": false}},
"y": {"field": "T", "type": "quantitative", "axis": null, "scale": {"domain": [255, 296.08], "nice": false, "zero": false}},
"text": {"field": "label"}
}
},
{
"data": {"name": "cbox"},
"mark": {"type": "rect", "color": "#00AEEF"},
"encoding": {
"x": {"field": "x1", "type": "quantitative", "axis": null, "scale": {"domain": [800, 1200], "nice": false, "zero": false}},
"x2": {"field": "x2"},
"y": {"field": "y1", "type": "quantitative", "axis": null, "scale": {"domain": [255, 296.08], "nice": false, "zero": false}},
"y2": {"field": "y2"}
}
},
{
"data": {"name": "ctext"},
"mark": {"type": "text", "align": "right", "baseline": "alphabetic", "fontSize": 46, "font": "Liberation Sans", "color": "black"},
"encoding": {
"x": {"field": "x", "type": "quantitative", "axis": null, "scale": {"domain": [800, 1200], "nice": false, "zero": false}},
"y": {"field": "T", "type": "quantitative", "axis": null, "scale": {"domain": [255, 296.08], "nice": false, "zero": false}},
"text": {"field": "label"}
}
}
]
}
